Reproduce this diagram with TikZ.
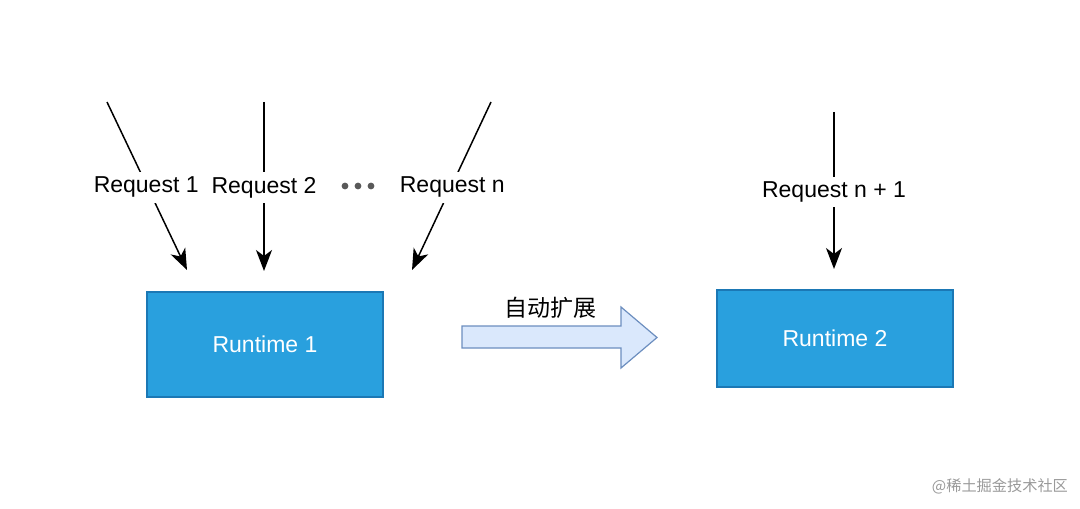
\documentclass[tikz,border=0pt]{standalone}
\usepackage{fontspec}
\setmainfont{Liberation Sans}
\newfontfamily\cjk{Noto Sans CJK SC}
\usetikzlibrary{arrows.meta}
\definecolor{boxblue}{HTML}{29A0DE}
\definecolor{boxedge}{HTML}{1B78B5}
\definecolor{arrfill}{HTML}{DAE8FC}
\definecolor{arredge}{HTML}{6C8EBF}
\tikzset{
  req/.style={line width=0.75pt, -{Stealth[length=10.5pt,width=8pt,inset=3pt]}},
  lbl/.style={fill=white, inner xsep=1pt, inner ysep=2.5pt, yshift=-1.5pt, font=\fontsize{11.5}{13}\selectfont, text=black},
  runtime/.style={draw=boxedge, fill=boxblue, line width=0.6pt, minimum width=118pt, text=white, font=\fontsize{11.5}{13}\selectfont},
  dotstyle/.style={fill=black!65, draw=none, circle, inner sep=0pt, minimum size=3.4pt},
}
\begin{document}
\begin{tikzpicture}[x=0.5pt,y=-0.5pt]
\useasboundingbox (0,0) rectangle (1080,508);
% boxes
\node[runtime, minimum height=52.5pt] (rt1) at (265,344.5) {Runtime 1};
\node[runtime, minimum height=48.5pt] (rt2) at (835,338.5) {Runtime 2};
% request arrows
\coordinate (s1) at (107,102); \coordinate (e1) at (187,270);
\coordinate (s2) at (264,102); \coordinate (e2) at (264,271);
\coordinate (s3) at (491,102); \coordinate (e3) at (412,270);
\coordinate (s4) at (834,112); \coordinate (e4) at (834,269);
\draw[req] (s1) -- node[lbl, pos=0.49] (l1) {Request 1} (e1);
\draw[req] (s2) -- node[lbl, pos=0.49] (l2) {Request 2} (e2);
\draw[req] (s3) -- node[lbl, pos=0.49] (l3) {Request n} (e3);
\draw[req] (s4) -- node[lbl, pos=0.49] (l4) {Request n + 1} (e4);
% dots
\node[dotstyle] (d1) at (345,186) {};
\node[dotstyle] (d2) at (358,186) {};
\node[dotstyle] (d3) at (371,186) {};
% block arrow
\coordinate (a1) at (462,326);
\coordinate (a2) at (621,326);
\coordinate (a3) at (621,307);
\coordinate (a4) at (657,337.5);
\coordinate (a5) at (621,368);
\coordinate (a6) at (621,348);
\coordinate (a7) at (462,348);
\draw[draw=arredge, fill=arrfill, line width=0.6pt, line join=miter] (a1) -- (a2) -- (a3) -- (a4) -- (a5) -- (a6) -- (a7) -- cycle;
\node[font=\cjk\fontsize{11.5}{13}\selectfont] (auto) at (550,308) {自动扩展};
% watermark
\node[font=\cjk\fontsize{7.6}{9}\selectfont, text=black!40, anchor=east] (wm) at (1075,486) {@稀土掘金技术社区};
\end{tikzpicture}
\end{document}
